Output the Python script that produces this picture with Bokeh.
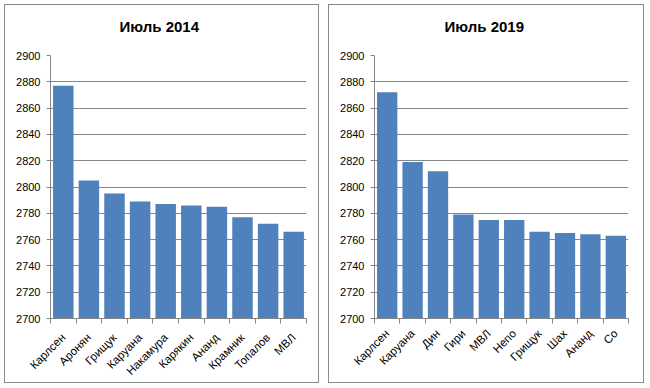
from bokeh.plotting import figure
from bokeh.layouts import row
from bokeh.models import FixedTicker, Range1d
from bokeh.embed import file_html
from bokeh.resources import INLINE

title_2014 = "Июль 2014"
names_2014 = ["Карлсен", "Аронян", "Грищук", "Каруана", "Накамура", "Карякин", "Ананд", "Крамник", "Топалов", "МВЛ"]
ratings_2014 = [2877, 2805, 2795, 2789, 2787, 2786, 2785, 2777, 2772, 2766]

title_2019 = "Июль 2019"
names_2019 = ["Карлсен", "Каруана", "Дин", "Гири", "МВЛ", "Непо", "Грищук", "Шах", "Ананд", "Со"]
ratings_2019 = [2872, 2819, 2812, 2779, 2775, 2775, 2766, 2765, 2764, 2763]

y_ticks = list(range(2700, 2901, 20))

FONT = "Liberation Sans"
GRID = "#868686"
BAR = "#4F81BD"


def make_panel(title, names, ratings, width, min_top, min_bottom, min_right, offset, margin, lab_standoff):
    n = len(names)
    xs = list(range(1, n + 1))
    p = figure(width=width, height=379, output_backend="svg", toolbar_location=None,
               x_range=Range1d(0.5, n + 0.5), y_range=Range1d(2700, 2900),
               min_border_left=45, min_border_right=min_right,
               min_border_top=min_top, min_border_bottom=min_bottom,
               title=title + "\n", margin=margin)
    p.styles = {"border": "1px solid #8a8a8a", "box-sizing": "border-box"}
    p.outline_line_color = None
    p.background_fill_color = "white"
    p.border_fill_color = "white"
    p.vbar(x=xs, top=ratings, bottom=2700, width=0.8, color=BAR, line_color=None)

    p.title.text_font = FONT
    p.title.text_font_size = "15px"
    p.title.text_font_style = "bold"
    p.title.text_color = "black"
    p.title.align = "left"
    p.title.offset = offset
    p.title.standoff = 8

    p.xgrid.grid_line_color = None
    p.ygrid.grid_line_color = GRID
    p.ygrid.ticker = FixedTicker(ticks=y_ticks)

    xa = p.xaxis[0]
    xa.ticker = FixedTicker(ticks=xs, minor_ticks=[x - 0.5 for x in xs] + [n + 0.5])
    xa.major_label_overrides = {x: nm for x, nm in zip(xs, names)}
    xa.major_label_orientation = 0.785398
    xa.major_tick_out = 0
    xa.major_tick_in = 0
    xa.minor_tick_out = 5
    xa.minor_tick_in = 0
    xa.minor_tick_line_color = GRID
    xa.axis_line_color = GRID
    xa.major_label_standoff = lab_standoff
    xa.major_label_text_font = FONT
    xa.major_label_text_font_size = "11.5px"
    xa.major_label_text_color = "black"

    ya = p.yaxis[0]
    ya.ticker = FixedTicker(ticks=y_ticks)
    ya.major_tick_out = 4
    ya.major_tick_in = 0
    ya.minor_tick_out = 0
    ya.minor_tick_in = 0
    ya.major_tick_line_color = GRID
    ya.axis_line_color = GRID
    ya.major_label_standoff = 6
    ya.major_label_text_font = FONT
    ya.major_label_text_font_size = "11px"
    ya.major_label_text_color = "black"
    return p


p1 = make_panel(title_2014, names_2014, ratings_2014, 315, 49, 65, 14, 69, (4, 0, 0, 4), 12)
p2 = make_panel(title_2019, names_2019, ratings_2019, 316, 50, 59, 17, 70, (4, 0, 0, 0), 8)

layout = row(p1, p2, spacing=9)
open("out.html", "w").write(file_html(layout, INLINE))
